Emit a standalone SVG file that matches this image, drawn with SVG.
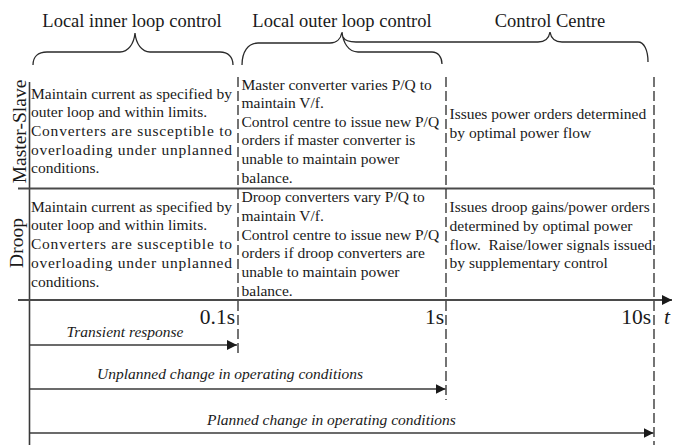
<svg xmlns="http://www.w3.org/2000/svg" width="673" height="445" viewBox="0 0 673 445">
<style>
text{font-family:"Liberation Serif","Times New Roman",serif;fill:#1a1a1a}
.b{font-size:15.5px}
.h{font-size:18.5px}
.s{font-size:19.5px}
.t{font-size:21.5px}
.i{font-size:15.5px;font-style:italic}
.ax{stroke:#3a3a3a;stroke-width:1.6;fill:none}
.hl{stroke:#4a4a4a;stroke-width:2.2;fill:none}
.d{stroke:#2a2a2a;stroke-width:1.3;stroke-dasharray:10 4;fill:none}
.br{stroke:#2a2a2a;stroke-width:1.3;fill:none}
</style>
<defs>
<marker id="ah" markerUnits="userSpaceOnUse" markerWidth="11" markerHeight="11" refX="10" refY="5" orient="auto">
<path d="M0,0 L10,5 L0,10 Z" fill="#1a1a1a"/>
</marker>
</defs>

<g id="headers">
<text class="h" x="132" y="27" text-anchor="middle">Local inner loop control</text>
<text class="h" x="342" y="27" text-anchor="middle">Local outer loop control</text>
<text class="h" x="550" y="27" text-anchor="middle">Control Centre</text>
<path class="br" d="M33,65 C33,57 38,52 47,52 L120,52 C128,52 134,44 135,33 C136,44 142,52 150,52 L220,52 C228,52 233,57 233,65"/>
<path class="br" d="M242,65 C242,52 248,43 258,43 L330,43 C337,43 341,38 342,32 C343,42 348,52 358,52 L432,52 C438,52 442,57 442,64"/>
<path class="br" d="M343,37 C345,41 349,42 356,42 L538,42 C545,42 549,38 550,32 C551,38 555,42 562,42 L638,42 C644,42 648,50 648,62"/>
</g>

<g id="connectors">
<line class="ax" x1="29.5" y1="82" x2="29.5" y2="445"/>
<line class="hl" x1="18" y1="188.5" x2="654" y2="188.5"/>
<line class="hl" x1="18" y1="300" x2="672" y2="300" marker-end="url(#ah)"/>
<line class="d" x1="238" y1="77" x2="238" y2="356"/>
<line class="d" x1="446" y1="77" x2="446" y2="400"/>
<line class="d" x1="654" y1="77" x2="654" y2="445"/>
<line class="ax" x1="29.5" y1="345" x2="237" y2="345" marker-end="url(#ah)"/>
<line class="ax" x1="29.5" y1="389" x2="445.5" y2="389" marker-end="url(#ah)"/>
<line class="ax" x1="29.5" y1="433" x2="653.5" y2="433" marker-end="url(#ah)"/>
</g>

<g id="row-labels">
<text class="s" transform="translate(26,131.5) rotate(-90)" text-anchor="middle">Master-Slave</text>
<text class="s" transform="translate(23,243) rotate(-90)" text-anchor="middle">Droop</text>
</g>

<g id="ms-inner">
<text class="b" x="31" y="98.5" textLength="201" lengthAdjust="spacing">Maintain current as specified by</text>
<text class="b" x="31" y="117.2">outer loop and within limits.</text>
<text class="b" x="31" y="136" textLength="201" lengthAdjust="spacing">Converters are susceptible to</text>
<text class="b" x="31" y="154.7" textLength="201" lengthAdjust="spacing">overloading under unplanned</text>
<text class="b" x="31" y="173.4">conditions.</text>
</g>

<g id="ms-outer">
<text class="b" x="241.5" y="89.5">Master converter varies P/Q to</text>
<text class="b" x="241.5" y="108">maintain V/f.</text>
<text class="b" x="241.5" y="126.7">Control centre to issue new P/Q</text>
<text class="b" x="241.5" y="145.3">orders if master converter is</text>
<text class="b" x="241.5" y="164">unable to maintain power</text>
<text class="b" x="241.5" y="182.6">balance.</text>
</g>

<g id="ms-centre">
<text class="b" x="449.5" y="119.3">Issues power orders determined</text>
<text class="b" x="449.5" y="138">by optimal power flow</text>
</g>

<g id="droop-inner">
<text class="b" x="31" y="211.5" textLength="201" lengthAdjust="spacing">Maintain current as specified by</text>
<text class="b" x="31" y="230.2">outer loop and within limits.</text>
<text class="b" x="31" y="249" textLength="201" lengthAdjust="spacing">Converters are susceptible to</text>
<text class="b" x="31" y="267.7" textLength="201" lengthAdjust="spacing">overloading under unplanned</text>
<text class="b" x="31" y="286.5">conditions.</text>
</g>

<g id="droop-outer">
<text class="b" x="241.5" y="202.3">Droop converters vary P/Q to</text>
<text class="b" x="241.5" y="221">maintain V/f.</text>
<text class="b" x="241.5" y="239.7">Control centre to issue new P/Q</text>
<text class="b" x="241.5" y="258.3">orders if droop converters are</text>
<text class="b" x="241.5" y="277">unable to maintain power</text>
<text class="b" x="241.5" y="295.6">balance.</text>
</g>

<g id="droop-centre">
<text class="b" x="449.5" y="212.3">Issues droop gains/power orders</text>
<text class="b" x="449.5" y="231">determined by optimal power</text>
<text class="b" x="449.5" y="249.7" xml:space="preserve">flow.  Raise/lower signals issued</text>
<text class="b" x="449.5" y="268.4">by supplementary control</text>
</g>

<g id="time-labels">
<text class="t" x="235" y="323.5" text-anchor="end">0.1s</text>
<text class="t" x="444" y="323.5" text-anchor="end">1s</text>
<text class="t" x="651" y="323.5" text-anchor="end">10s</text>
<text class="t" x="664" y="323.5" font-style="italic">t</text>
</g>

<g id="arrow-labels">
<text class="i" x="125" y="337" text-anchor="middle">Transient response</text>
<text class="i" x="97" y="379">Unplanned change in operating conditions</text>
<text class="i" x="207" y="425">Planned change in operating conditions</text>
</g>
</svg>
